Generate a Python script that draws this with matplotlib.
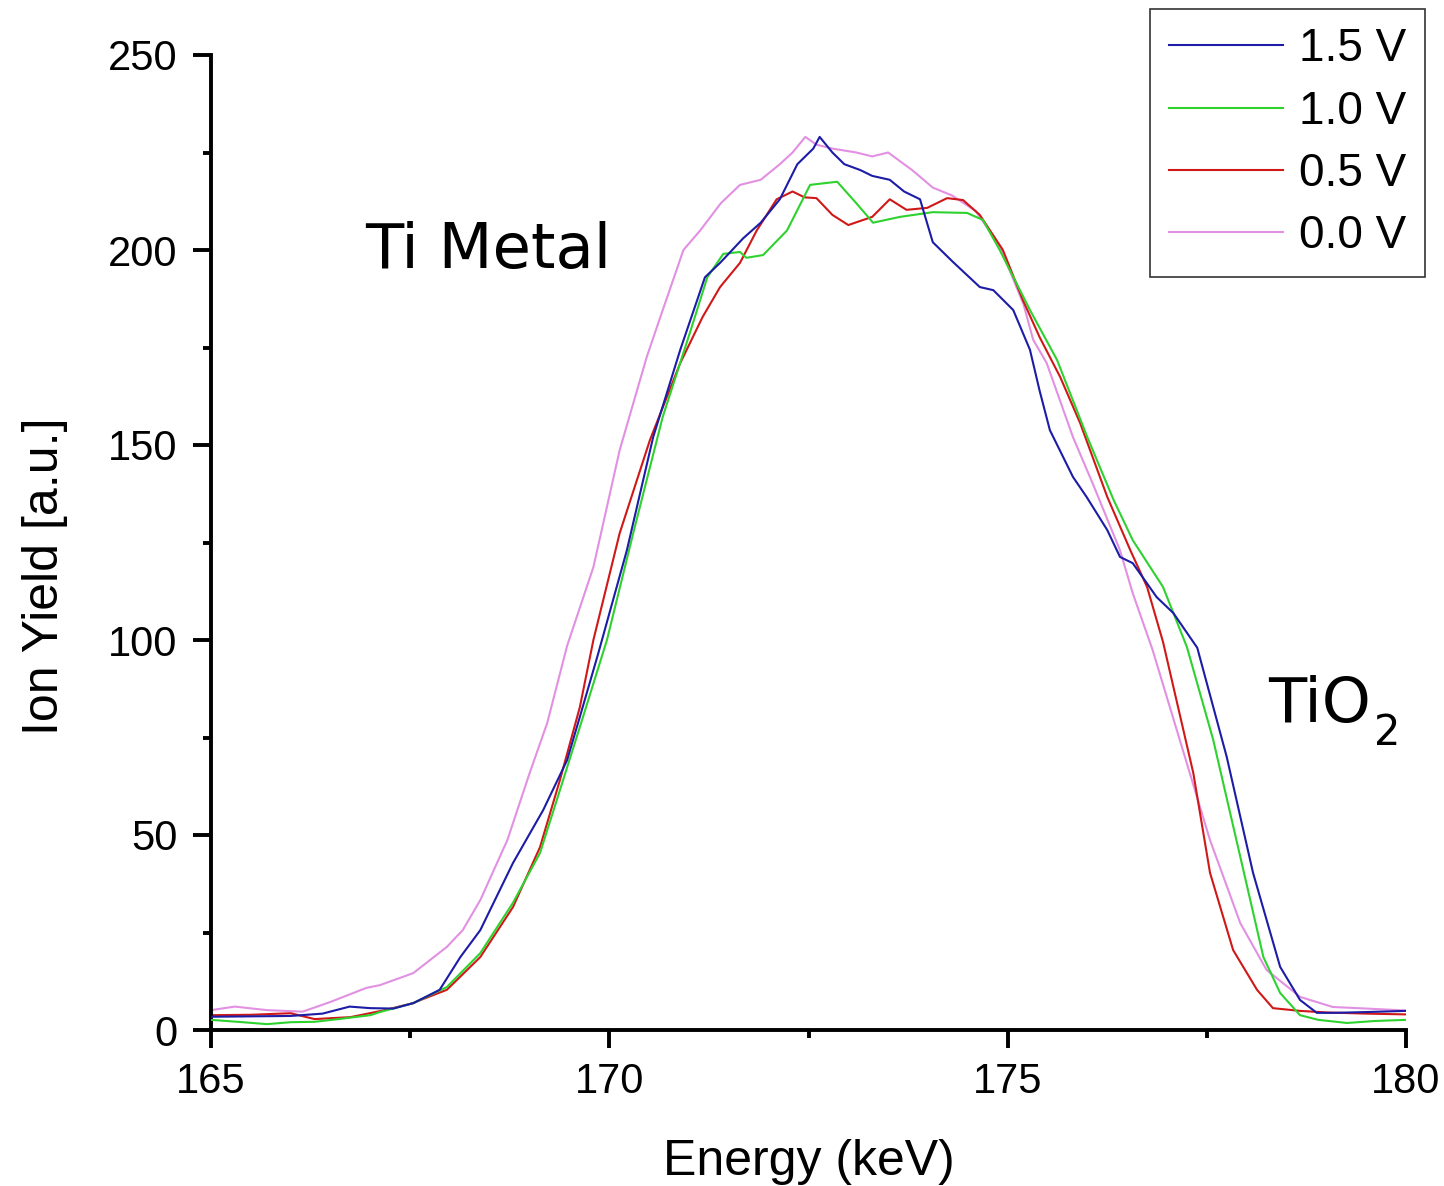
import matplotlib
matplotlib.use("Agg")
import matplotlib.pyplot as plt
from matplotlib.ticker import MultipleLocator

# spectra for each bias voltage: energy (keV) and ion yield (a.u.)
e_15 = [165.0, 165.5, 166.0, 166.4, 166.74, 167.0, 167.29, 167.54, 167.87, 168.13,
        168.38, 168.79, 169.17, 169.47, 169.63, 169.86, 170.22, 170.55, 170.89, 171.2,
        171.39, 171.68, 171.9, 172.14, 172.36, 172.56, 172.64, 172.8, 172.95, 173.15,
        173.3, 173.52, 173.7, 173.9, 174.06, 174.31, 174.65, 174.82, 175.07, 175.28,
        175.4, 175.53, 175.82, 175.99, 176.25, 176.41, 176.57, 176.87, 177.08, 177.38,
        177.75, 178.08, 178.42, 178.67, 178.88, 179.1, 179.5, 180.0]
y_15 = [3.4, 3.5, 3.6, 4.2, 6.0, 5.6, 5.5, 6.9, 10.3, 18.7,
        25.6, 42.8, 56.4, 69.2, 80.3, 96.5, 123, 152, 174.4, 193,
        196.7, 203, 207, 213, 222, 226, 229, 225, 222, 220.5,
        219, 218, 215, 213, 202, 197, 190.5, 189.7, 184.6, 174.4,
        164, 153.8, 141.8, 136.7, 128.2, 121.3, 119.7, 111, 106.9, 98,
        70, 40.3, 16.2, 7.7, 4.4, 4.4, 4.6, 4.9]

e_10 = [165.0, 165.4, 165.7, 166.0, 166.3, 166.6, 167.0, 167.12, 167.54, 167.96,
        168.38, 168.79, 169.13, 169.42, 169.67, 169.97, 170.3, 170.67, 171.01, 171.23,
        171.43, 171.64, 171.72, 171.93, 172.23, 172.52, 172.86, 173.1, 173.31, 173.65,
        174.06, 174.49, 174.69, 174.9, 175.28, 175.62, 176.0, 176.33, 176.57, 176.95,
        177.25, 177.58, 177.92, 178.21, 178.42, 178.67, 178.9, 179.26, 179.6, 180.0]
y_10 = [2.6, 2.0, 1.5, 2.0, 2.1, 2.8, 3.8, 4.6, 6.9, 11,
        19.7, 32.6, 45.4, 64.1, 80.3, 100, 127.4, 157.2, 178.7, 193,
        199, 199.5, 198, 198.7, 205, 216.7, 217.5, 212, 207, 208.5,
        209.7, 209.5, 207.7, 200, 184.6, 171.8, 152, 135.9, 125.6, 113.6,
        98.2, 74.4, 44.4, 18.7, 9.5, 3.8, 2.6, 1.8, 2.3, 2.6]

e_05 = [165.0, 165.5, 166.0, 166.3, 166.75, 167.16, 167.54, 167.62, 167.96, 168.38,
        168.79, 169.13, 169.38, 169.63, 169.8, 170.13, 170.51, 170.89, 171.17, 171.39,
        171.64, 171.85, 172.1, 172.3, 172.45, 172.6, 172.8, 173.0, 173.3, 173.52,
        173.73, 173.99, 174.24, 174.44, 174.65, 174.94, 175.19, 175.4, 175.66, 175.91,
        176.25, 176.54, 176.75, 176.95, 177.33, 177.54, 177.83, 178.13, 178.33, 178.67,
        179.0, 179.5, 180.0]
y_05 = [3.8, 3.9, 4.3, 2.8, 3.3, 5.0, 6.9, 7.6, 10.3, 18.7,
        31.5, 46.9, 64.1, 82.8, 100, 127.4, 151.3, 171, 182.8, 190.5,
        196.7, 205, 213, 215, 213.5, 213.3, 209, 206.4, 208.5, 213,
        210.3, 210.8, 213.3, 212.8, 209, 200, 187.2, 177.7, 167.4, 155.6,
        136.7, 123, 113.6, 99.5, 65.9, 40.3, 20.5, 10.3, 5.6, 4.9,
        4.5, 4.2, 4.0]

e_00 = [165.0, 165.3, 165.7, 166.15, 166.5, 166.95, 167.12, 167.54, 167.96, 168.16,
        168.38, 168.72, 169.0, 169.22, 169.47, 169.8, 170.13, 170.47, 170.64, 170.93,
        171.14, 171.4, 171.64, 171.9, 172.14, 172.3, 172.46, 172.6, 172.8, 173.1,
        173.3, 173.5, 173.8, 174.06, 174.3, 174.6, 174.9, 175.2, 175.32, 175.49,
        175.82, 176.07, 176.41, 176.57, 176.82, 177.16, 177.54, 177.92, 178.25, 178.67,
        179.08, 179.5, 180.0]
y_00 = [5.1, 6.0, 5.1, 4.7, 7.2, 10.8, 11.5, 14.6, 21.3, 25.6,
        33.3, 48.7, 65.9, 78.7, 98.5, 118.7, 148.7, 172.6, 182.8, 200,
        205, 212, 216.7, 218, 222, 225, 229, 227, 226, 225,
        224, 225, 220.5, 216, 214, 210, 201, 186, 177, 171,
        152, 140, 123, 112, 97.4, 74.4, 48.7, 27.4, 15.4, 8.5,
        5.9, 5.5, 5.0]

labels = ["1.5 V", "1.0 V", "0.5 V", "0.0 V"]
colors = ["#1c1ca6", "#2ed22e", "#d01818", "#e290e2"]

plt.rcParams["font.family"] = "Liberation Sans"

fig = plt.figure(figsize=(14.44, 11.86), dpi=100)
ax = fig.add_axes([211 / 1444, 1 - 1030 / 1186, 1195 / 1444, 975 / 1186])

series = [(e_15, y_15), (e_10, y_10), (e_05, y_05), (e_00, y_00)]
for (e, y), lab, c, z in zip(series, labels, colors, [4, 3, 2, 1]):
    ax.plot(e, y, color=c, lw=1.5, label=lab, zorder=z)

ax.set_xlim(165, 180)
ax.set_ylim(0, 250)
ax.xaxis.set_major_locator(MultipleLocator(5))
ax.xaxis.set_minor_locator(MultipleLocator(2.5))
ax.yaxis.set_major_locator(MultipleLocator(50))
ax.yaxis.set_minor_locator(MultipleLocator(25))

for side in ["top", "right"]:
    ax.spines[side].set_visible(False)
for side in ["left", "bottom"]:
    ax.spines[side].set_linewidth(2.8)
    ax.spines[side].set_clip_on(False)

ax.tick_params(which="major", direction="out", length=13, width=2.8, labelsize=30)
ax.tick_params(which="minor", direction="out", length=6, width=2.8)
ax.tick_params(axis="x", which="major", pad=10)
ax.tick_params(axis="y", which="major", pad=11)

ax.set_xlabel("Energy (keV)", fontsize=36)
ax.xaxis.set_label_coords(0.5, -0.112)
ax.set_ylabel("Ion Yield [a.u.]", fontsize=36)
ax.yaxis.set_label_coords(-0.12, 0.465)

ax.text(166.93, 195.4, "Ti Metal", fontsize=45, family="DejaVu Sans",
        ha="left", va="baseline")
# TiO2 label: main text plus a dropped subscript
ax.text(178.27, 79, "TiO", fontsize=45, family="DejaVu Sans",
        ha="left", va="baseline")
ax.text(179.6, 73.1, "2", fontsize=30, family="DejaVu Sans",
        ha="left", va="baseline")

leg = ax.legend(loc="upper right", bbox_to_anchor=(1425 / 1444, 1 - 9 / 1186),
                bbox_transform=fig.transFigure, borderaxespad=0, fontsize=33,
                frameon=True, fancybox=False, shadow=False, labelspacing=0.4,
                borderpad=0.4, handletextpad=0.35, handlelength=2.5)
leg.get_frame().set_edgecolor("black")
leg.get_frame().set_linewidth(1.2)
for line in leg.get_lines():
    line.set_linewidth(1.5)

fig.savefig("out.png", dpi=100)
